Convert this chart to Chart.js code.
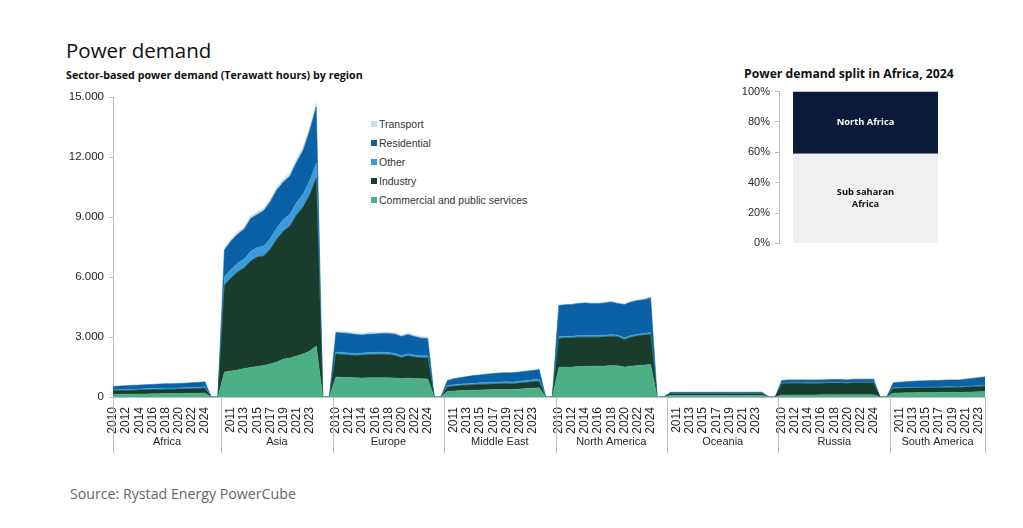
<!DOCTYPE html>
<html>
<head>
<meta charset="utf-8">
<script src="https://cdn.jsdelivr.net/npm/chart.js@4.4.1/dist/chart.umd.min.js"></script>
<style>
  body { margin: 0; background: #fff; width: 1023px; height: 528px; position: relative; overflow: hidden; font-family: "Liberation Sans", Arial, sans-serif; }
  #main { position: absolute; left: 0; top: 0; }
  #inset { position: absolute; left: 725px; top: 80px; }
  .title { position: absolute; left: 66px; top: 36px; font-family: "Open Sans", sans-serif; font-size: 20.5px; color: #111; }
  .subtitle { position: absolute; left: 66px; top: 68px; font-family: "Open Sans", sans-serif; font-weight: bold; font-size: 10.7px; color: #111; }
  .inset-title { position: absolute; left: 744px; top: 65px; font-family: "Open Sans", sans-serif; font-weight: bold; font-size: 12.2px; color: #111; }
  .source { position: absolute; left: 70px; top: 484px; font-family: "Open Sans", sans-serif; font-size: 14.2px; color: #666; }
  #legend { position: absolute; left: 371px; top: 117px; font-size: 10.5px; color: #333; }
  #legend div { height: 19px; line-height: 14px; }
  #legend span.sw { display: inline-block; width: 6px; height: 6px; margin-right: 2px; vertical-align: 1px; }
</style>
</head>
<body>
<div class="title">Power demand</div>
<div class="subtitle">Sector-based power demand (Terawatt hours) by region</div>
<div class="inset-title">Power demand split in Africa, 2024</div>
<div class="source">Source: Rystad Energy PowerCube</div>
<div id="legend"></div>
<canvas id="main" width="1023" height="528"></canvas>
<canvas id="inset" width="240" height="175"></canvas>
<script>
// regions and years on the category axis
const regions = ['Africa', 'Asia', 'Europe', 'Middle East', 'North America', 'Oceania', 'Russia', 'South America'];
const years = ['2010', '2011', '2012', '2013', '2014', '2015', '2016', '2017', '2018', '2019', '2020', '2021', '2022', '2023', '2024'];

// TWh per sector, one row per region (2010..2024)
const commercial = [
    [130, 135, 140, 145, 150, 155, 160, 165, 170, 172, 175, 180, 185, 190, 200],
    [1250, 1300, 1350, 1420, 1480, 1530, 1580, 1650, 1750, 1900, 1950, 2050, 2150, 2300, 2550],
    [1000, 980, 970, 960, 950, 960, 960, 960, 960, 950, 920, 940, 920, 910, 900],
    [280, 300, 320, 330, 340, 350, 360, 370, 375, 380, 380, 400, 420, 440, 460],
    [1480, 1500, 1500, 1520, 1530, 1540, 1550, 1550, 1570, 1560, 1500, 1540, 1580, 1600, 1620],
    [75, 76, 77, 77, 78, 78, 79, 79, 80, 80, 79, 80, 80, 81, 82],
    [100, 102, 103, 104, 105, 106, 107, 108, 110, 110, 108, 112, 113, 114, 115],
    [200, 205, 210, 215, 220, 222, 225, 228, 232, 235, 230, 245, 255, 265, 280]
];
const industry = [
    [180, 185, 190, 195, 200, 205, 210, 215, 220, 215, 220, 225, 230, 235, 245],
    [4350, 4650, 4900, 5030, 5320, 5470, 5470, 5750, 6150, 6400, 6600, 7050, 7350, 7800, 8400],
    [1150, 1150, 1130, 1120, 1150, 1160, 1170, 1180, 1170, 1130, 1050, 1120, 1080, 1050, 1060],
    [230, 240, 250, 260, 270, 275, 280, 285, 290, 290, 280, 300, 310, 320, 330],
    [1450, 1460, 1460, 1470, 1460, 1450, 1440, 1460, 1470, 1450, 1380, 1450, 1480, 1500, 1520],
    [85, 84, 83, 82, 82, 81, 80, 80, 79, 79, 77, 78, 78, 78, 78],
    [560, 580, 580, 578, 575, 574, 580, 586, 592, 590, 575, 598, 596, 594, 600],
    [230, 232, 235, 238, 240, 238, 236, 240, 244, 246, 240, 252, 258, 262, 270]
];
const other = [
    [45, 46, 48, 50, 51, 52, 54, 55, 57, 57, 58, 60, 62, 64, 66],
    [400, 420, 440, 450, 470, 480, 500, 520, 560, 580, 600, 620, 650, 700, 750],
    [100, 100, 100, 100, 100, 100, 100, 100, 100, 100, 100, 100, 100, 100, 100],
    [70, 72, 75, 78, 80, 82, 84, 86, 88, 90, 90, 92, 95, 97, 100],
    [80, 80, 80, 80, 80, 80, 80, 80, 80, 80, 80, 80, 80, 80, 80],
    [8, 8, 8, 8, 8, 8, 8, 8, 8, 8, 8, 8, 8, 8, 8],
    [30, 30, 30, 30, 30, 30, 30, 30, 30, 30, 30, 30, 30, 30, 30],
    [30, 30, 31, 31, 32, 32, 33, 33, 34, 34, 34, 36, 37, 38, 40]
];
const residential = [
    [175, 180, 185, 190, 195, 200, 205, 210, 215, 215, 220, 225, 232, 240, 250],
    [1350, 1425, 1450, 1485, 1660, 1645, 1770, 1845, 1900, 1870, 1900, 2020, 2180, 2515, 2800],
    [970, 970, 970, 940, 900, 920, 920, 930, 940, 960, 955, 960, 920, 880, 860],
    [240, 298, 325, 352, 380, 393, 416, 429, 447, 450, 460, 458, 465, 463, 480],
    [1570, 1570, 1590, 1610, 1630, 1608, 1608, 1616, 1635, 1584, 1664, 1682, 1680, 1685, 1740],
    [65, 66, 66, 67, 67, 68, 68, 69, 69, 70, 70, 71, 71, 72, 72],
    [130, 135, 135, 135, 136, 136, 138, 140, 142, 143, 140, 144, 145, 146, 148],
    [250, 270, 285, 300, 310, 318, 325, 330, 335, 340, 345, 360, 380, 400, 420]
];
const transport = [
    [10, 10, 10, 10, 10, 10, 10, 10, 10, 10, 10, 10, 10, 10, 10],
    [100, 105, 110, 115, 120, 125, 130, 135, 140, 150, 150, 160, 170, 185, 200],
    [80, 80, 80, 80, 80, 80, 80, 80, 80, 80, 75, 80, 80, 80, 80],
    [10, 10, 10, 10, 10, 10, 10, 10, 10, 10, 10, 10, 10, 10, 10],
    [20, 20, 20, 20, 20, 22, 22, 24, 25, 26, 26, 28, 30, 35, 40],
    [3, 3, 3, 3, 3, 3, 3, 3, 3, 3, 3, 3, 3, 3, 3],
    [30, 30, 30, 30, 30, 30, 30, 30, 30, 30, 30, 30, 30, 30, 30],
    [8, 8, 8, 8, 8, 8, 8, 8, 8, 8, 8, 8, 8, 8, 8]
];
const yTicks = [0, 3000, 6000, 9000, 12000, 15000];

// Africa 2024 split (%)
const africaSplit = ['Sub saharan\nAfrica', 'North Africa'];
const africaShares = [59, 41];

const GAP = 2; // empty categories between regions
const GROUP = years.length + GAP;

// flatten regions into one category axis with zero gaps
const labels = [];
regions.forEach(function (r, i) {
    years.forEach(y => labels.push(y));
    if (i < regions.length - 1) for (let g = 0; g < GAP; g++) labels.push('');
});
function series(rows) {
    const out = [];
    rows.forEach(function (row, i) {
        out.push(...row);
        if (i < rows.length - 1) for (let g = 0; g < GAP; g++) out.push(0);
    });
    return out;
}

const sectors = [
    { label: 'Commercial and public services', rows: commercial, color: '#4daf86' },
    { label: 'Industry', rows: industry, color: '#183d2c' },
    { label: 'Other', rows: other, color: '#3b9bd8' },
    { label: 'Residential', rows: residential, color: '#0b61a6' },
    { label: 'Transport', rows: transport, color: '#c6dbec' }
];

// html legend, top item first
document.getElementById('legend').innerHTML = sectors.slice().reverse().map(s =>
    `<div><span class="sw" style="background:${s.color}"></span>${s.label}</div>`).join('');

function fmt(v) {
    return String(v).replace(/\B(?=(\d{3})+(?!\d))/g, '.');
}

// region labels and separators under the year labels
const regionAxis = {
    id: 'regionAxis',
    afterDraw(chart) {
        const { ctx, chartArea } = chart;
        const x = chart.scales.x;
        const bounds = [chartArea.left];
        for (let i = 1; i < regions.length; i++) bounds.push(x.getPixelForValue(i * GROUP - 0.5));
        bounds.push(chartArea.right);
        ctx.save();
        ctx.strokeStyle = '#bfbfbf';
        ctx.lineWidth = 1;
        bounds.forEach(function (b) {
            ctx.beginPath();
            ctx.moveTo(Math.round(b) + 0.5, chartArea.bottom);
            ctx.lineTo(Math.round(b) + 0.5, chartArea.bottom + 56);
            ctx.stroke();
        });
        ctx.fillStyle = '#262626';
        ctx.font = '11px "Liberation Sans", Arial, sans-serif';
        ctx.textAlign = 'center';
        ctx.textBaseline = 'middle';
        regions.forEach(function (r, i) {
            ctx.fillText(r, (bounds[i] + bounds[i + 1]) / 2, chartArea.bottom + 45);
        });
        ctx.restore();
    }
};

new Chart(document.getElementById('main'), {
    type: 'line',
    data: {
        labels: labels,
        datasets: sectors.map((s, i) => ({
            label: s.label,
            data: series(s.rows),
            backgroundColor: s.color,
            borderColor: s.color,
            borderWidth: 0.5,
            pointRadius: 0,
            tension: 0,
            fill: i === 0 ? 'origin' : '-1'
        }))
    },
    options: {
        responsive: false,
        animation: false,
        layout: { padding: { top: 97, right: 38, bottom: 81, left: 0 } },
        plugins: { legend: { display: false }, tooltip: { enabled: false } },
        scales: {
            x: {
                stacked: true,
                grid: { display: false },
                border: { color: '#bfbfbf' },
                afterFit(scale) { scale.height = 50; },
                ticks: {
                    autoSkip: false,
                    minRotation: 90,
                    maxRotation: 90,
                    padding: 2,
                    color: '#262626',
                    font: { family: '"Liberation Sans", Arial, sans-serif', size: 12 },
                    callback: function (value, index) {
                        return index % 2 === 0 ? this.getLabelForValue(value) : '';
                    }
                }
            },
            y: {
                stacked: true,
                min: 0,
                max: 15000,
                afterFit(scale) { scale.width = 113; },
                afterBuildTicks(scale) { scale.ticks = yTicks.map(v => ({ value: v })); },
                grid: { drawOnChartArea: false, tickLength: 4, color: '#bfbfbf' },
                border: { color: '#bfbfbf' },
                ticks: {
                    padding: 5,
                    color: '#262626',
                    font: { family: '"Liberation Sans", Arial, sans-serif', size: 11.5 },
                    callback: v => fmt(v)
                }
            }
        }
    },
    plugins: [regionAxis]
});

// labels inside the inset bar segments
const barLabels = {
    id: 'barLabels',
    afterDatasetsDraw(chart) {
        const { ctx } = chart;
        ctx.save();
        ctx.font = 'bold 9.3px "Open Sans", sans-serif';
        ctx.textAlign = 'center';
        ctx.textBaseline = 'middle';
        chart.data.datasets.forEach(function (ds, i) {
            const bar = chart.getDatasetMeta(i).data[0];
            const lines = ds.label.split('\n');
            const cy = (bar.y + bar.base) / 2;
            ctx.fillStyle = i === 1 ? '#ffffff' : '#111111';
            lines.forEach(function (line, k) {
                ctx.fillText(line, bar.x, cy + (k - (lines.length - 1) / 2) * 12);
            });
        });
        ctx.restore();
    }
};

new Chart(document.getElementById('inset'), {
    type: 'bar',
    data: {
        labels: ['2024'],
        datasets: africaSplit.map((name, i) => ({
            label: name,
            data: [africaShares[i]],
            backgroundColor: i === 0 ? '#f0f0f0' : '#0b1a3b',
            categoryPercentage: 1,
            barPercentage: 0.838
        }))
    },
    options: {
        responsive: false,
        animation: false,
        layout: { padding: { top: 10, right: 13, bottom: 10, left: 0 } },
        plugins: { legend: { display: false }, tooltip: { enabled: false } },
        scales: {
            x: { stacked: true, display: false },
            y: {
                stacked: true,
                min: 0,
                max: 100,
                afterFit(scale) { scale.width = 54; },
                grid: { drawOnChartArea: false, tickLength: 4, color: '#bfbfbf' },
                border: { color: '#bfbfbf' },
                ticks: {
                    stepSize: 20,
                    padding: 5,
                    color: '#262626',
                    font: { family: '"Liberation Sans", Arial, sans-serif', size: 11 },
                    callback: v => v + '%'
                }
            }
        }
    },
    plugins: [barLabels]
});
</script>
</body>
</html>
